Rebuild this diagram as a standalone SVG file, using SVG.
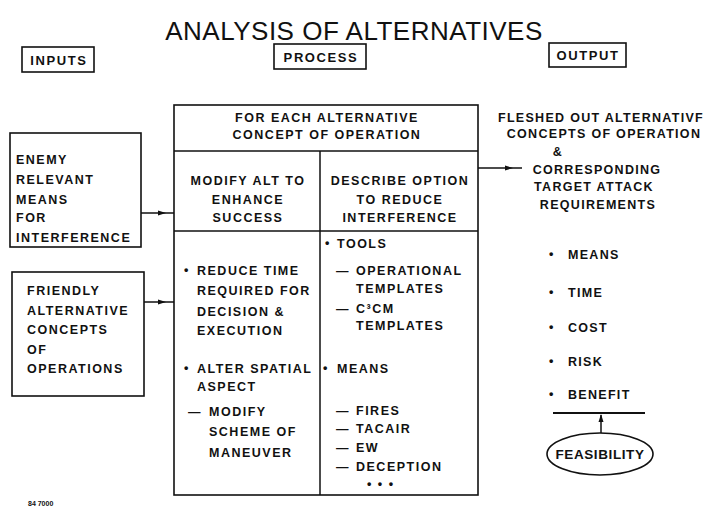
<svg xmlns="http://www.w3.org/2000/svg" width="708" height="522" viewBox="0 0 708 522">
<style>
text{font-family:"Liberation Sans",Arial,sans-serif;fill:#111}
.t{font-size:12.5px;font-weight:bold;letter-spacing:1.5px}
.o{font-size:12.5px;font-weight:bold;letter-spacing:1.3px}
.h{font-size:13px;font-weight:bold;letter-spacing:1.6px}
.m{text-anchor:middle}
.box{fill:none;stroke:#111;stroke-width:1.6}
.ln{fill:none;stroke:#111;stroke-width:1.5}
</style>
<defs>
<marker id="ah" markerWidth="8" markerHeight="6" refX="7" refY="3" orient="auto" markerUnits="userSpaceOnUse">
<path d="M0,0.5 L8,3 L0,5.5 Z" fill="#111"/>
</marker>
</defs>
<rect width="708" height="522" fill="#fff"/>
<text x="354" y="40" class="m" style="font-size:26px;letter-spacing:0.5px">ANALYSIS OF ALTERNATIVES</text>
<g id="inputs-header">
<rect class="box" x="22" y="47" width="72" height="25"/>
<text x="59" y="65" class="h m">INPUTS</text>
</g>
<g id="process-header">
<rect class="box" x="274" y="44" width="92" height="25"/>
<text x="321" y="62" class="h m">PROCESS</text>
</g>
<g id="output-header">
<rect class="box" x="549" y="43" width="77" height="24"/>
<text x="588" y="60" class="h m">OUTPUT</text>
</g>
<g id="enemy">
<rect class="box" x="10" y="133" width="131" height="114"/>
<text class="t" x="16" y="164">ENEMY</text>
<text class="t" x="16" y="184">RELEVANT</text>
<text class="t" x="16" y="204">MEANS</text>
<text class="t" x="16" y="222">FOR</text>
<text class="t" x="16" y="242">INTERFERENCE</text>
</g>
<g id="friendly">
<rect class="box" x="12" y="272" width="132" height="124"/>
<text class="t" x="27" y="295">FRIENDLY</text>
<text class="t" x="27" y="315">ALTERNATIVE</text>
<text class="t" x="27" y="334">CONCEPTS</text>
<text class="t" x="27" y="354">OF</text>
<text class="t" x="27" y="373">OPERATIONS</text>
</g>
<g id="process">
<rect class="box" x="174" y="105" width="304" height="390"/>
<line class="ln" x1="174" y1="151" x2="478" y2="151"/>
<line class="ln" x1="174" y1="231" x2="478" y2="231"/>
<line class="ln" x1="320" y1="151" x2="320" y2="495"/>
<text class="t m" x="327" y="122">FOR EACH ALTERNATIVE</text>
<text class="t m" x="327" y="139">CONCEPT OF OPERATION</text>
<text class="t m" x="248" y="185">MODIFY ALT TO</text>
<text class="t m" x="248" y="204">ENHANCE</text>
<text class="t m" x="248" y="222">SUCCESS</text>
<text class="t m" x="400" y="185">DESCRIBE OPTION</text>
<text class="t m" x="400" y="204">TO REDUCE</text>
<text class="t m" x="400" y="222">INTERFERENCE</text>
<text class="t" x="184" y="274">•</text>
<text class="t" x="197" y="275">REDUCE TIME</text>
<text class="t" x="197" y="295">REQUIRED FOR</text>
<text class="t" x="197" y="316">DECISION &amp;</text>
<text class="t" x="197" y="335">EXECUTION</text>
<text class="t" x="184" y="372">•</text>
<text class="t" x="197" y="373">ALTER SPATIAL</text>
<text class="t" x="197" y="391">ASPECT</text>
<text class="t" x="188" y="416">—</text>
<text class="t" x="209" y="416">MODIFY</text>
<text class="t" x="209" y="436">SCHEME OF</text>
<text class="t" x="209" y="457">MANEUVER</text>
<text class="t" x="325" y="247">•</text>
<text class="t" x="337" y="248">TOOLS</text>
<text class="t" x="336" y="275">—</text>
<text class="t" x="356" y="275">OPERATIONAL</text>
<text class="t" x="356" y="293">TEMPLATES</text>
<text class="t" x="336" y="313">—</text>
<text class="t" x="356" y="313">C³CM</text>
<text class="t" x="356" y="330">TEMPLATES</text>
<text class="t" x="323" y="372">•</text>
<text class="t" x="337" y="373">MEANS</text>
<text class="t" x="336" y="415">—</text>
<text class="t" x="356" y="415">FIRES</text>
<text class="t" x="336" y="433">—</text>
<text class="t" x="356" y="433">TACAIR</text>
<text class="t" x="336" y="452">—</text>
<text class="t" x="356" y="452">EW</text>
<text class="t" x="336" y="471">—</text>
<text class="t" x="356" y="471">DECEPTION</text>
<text class="t" x="367" y="488">• • •</text>
</g>
<g id="output">
<text class="o m" x="601" y="122">FLESHED OUT ALTERNATIVF</text>
<text class="o m" x="604" y="138">CONCEPTS OF OPERATION</text>
<text class="o m" x="558" y="156">&amp;</text>
<text class="o m" x="597" y="174">CORRESPONDING</text>
<text class="o m" x="594" y="191">TARGET ATTACK</text>
<text class="o m" x="598" y="209">REQUIREMENTS</text>
<text class="o" x="549" y="258">•</text>
<text class="o" x="568" y="259">MEANS</text>
<text class="o" x="549" y="296">•</text>
<text class="o" x="568" y="297">TIME</text>
<text class="o" x="549" y="331">•</text>
<text class="o" x="568" y="332">COST</text>
<text class="o" x="549" y="365">•</text>
<text class="o" x="568" y="366">RISK</text>
<text class="o" x="549" y="398">•</text>
<text class="o" x="568" y="399">BENEFIT</text>
</g>
<g id="feasibility">
<ellipse class="box" cx="600" cy="454" rx="53" ry="21"/>
<text class="m" x="600" y="459" style="font-size:13.5px;font-weight:bold;letter-spacing:0.6px">FEASIBILITY</text>
</g>
<g id="connectors">
<path class="ln" d="M141,213 L165,213 L174,213" marker-mid="url(#ah)"/>
<path class="ln" d="M144,302 L165,302 L174,302" marker-mid="url(#ah)"/>
<path class="ln" d="M478,168 L512,168 L522,168" marker-mid="url(#ah)"/>
<line class="ln" x1="553" y1="413" x2="645" y2="413" style="stroke-width:2"/>
<line class="ln" x1="601" y1="433" x2="601" y2="415" marker-end="url(#ah)"/>
</g>
<text x="28" y="506" style="font-size:7px;font-weight:bold">84 7000</text>
</svg>
